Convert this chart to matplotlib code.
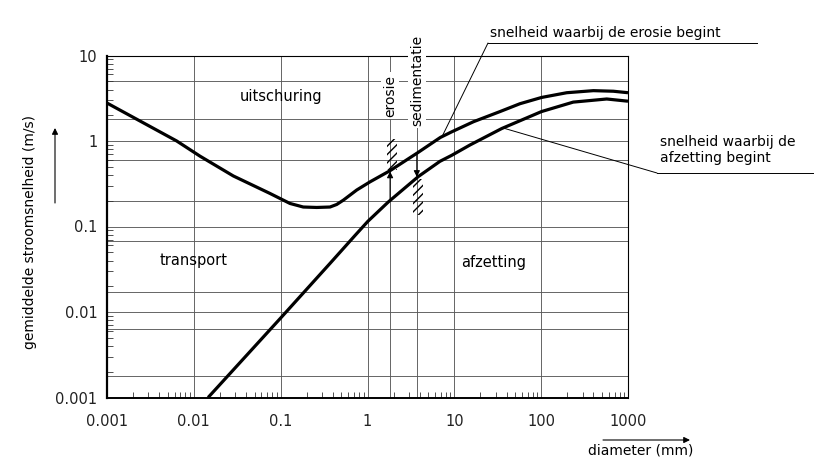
import numpy as np
import matplotlib
matplotlib.use("Agg")
import matplotlib.pyplot as plt
from matplotlib.patches import Rectangle
from matplotlib.ticker import LogLocator, NullFormatter

# --- data ---
# erosion curve (snelheid waarbij de erosie begint)
d_erosie = [0.001, 0.00635, 0.0118, 0.0285, 0.075, 0.098, 0.128, 0.182, 0.26, 0.37,
            0.442, 0.526, 0.751, 1.07, 1.82, 3.82, 6.9, 9.33, 16.6, 33.6, 57, 101,
            197, 399, 678, 1000]
v_erosie = [2.78, 1.0, 0.664, 0.39, 0.244, 0.213, 0.186, 0.169, 0.167, 0.169,
            0.181, 0.203, 0.267, 0.333, 0.45, 0.734, 1.1, 1.28, 1.68, 2.21, 2.73, 3.23,
            3.67, 3.88, 3.82, 3.67]

# deposition curve (snelheid waarbij de afzetting begint)
d_afzetting = [0.0146, 0.0239, 0.101, 0.37, 0.718, 1.01, 1.74, 3.85, 6.84, 9.33,
               15.2, 35.2, 101, 234, 569, 1000]
v_afzetting = [0.001, 0.00173, 0.0086, 0.037, 0.0785, 0.115, 0.194, 0.384, 0.579, 0.68,
               0.9, 1.4, 2.21, 2.85, 3.1, 2.92]

# tick labels
x_ticks = [0.001, 0.01, 0.1, 1, 10, 100, 1000]
x_labels = ["0.001", "0.01", "0.1", "1", "10", "100", "1000"]
y_ticks = [0.001, 0.01, 0.1, 1, 10]
y_labels = ["0.001", "0.01", "0.1", "1", "10"]

# extra grid lines of the drawing
grid_x = [1.82, 3.7]
grid_y = [5, 1.8, 0.6, 0.2, 0.067, 0.017, 0.0064, 0.0018]

W, H = 821, 459
plt.rcParams["hatch.linewidth"] = 1.0
fig = plt.figure(figsize=(W / 100, H / 100), dpi=100)
ax = fig.add_axes([107 / W, 1 - 397.5 / H, (628 - 107) / W, (397.5 - 55.5) / H])
ax.set_xscale("log")
ax.set_yscale("log")
ax.set_xlim(0.001, 1000)
ax.set_ylim(0.001, 10)

# grid
gcol = "#5a5a5a"
for yv in y_ticks + grid_y:
    ax.axhline(yv, color=gcol, lw=0.65, zorder=1)
for xv in x_ticks + grid_x:
    ax.axvline(xv, color=gcol, lw=0.65, zorder=1)

# curves
ax.plot(d_erosie, v_erosie, color="black", lw=2.3, solid_capstyle="butt", zorder=3)
ax.plot(d_afzetting, v_afzetting, color="black", lw=2.3, solid_capstyle="butt", zorder=3)

# ticks
ax.set_xticks(x_ticks, x_labels)
ax.set_yticks(y_ticks, y_labels)
ax.xaxis.set_minor_locator(LogLocator(base=10, subs=np.arange(2, 10)))
ax.yaxis.set_minor_locator(LogLocator(base=10, subs=np.arange(2, 10)))
ax.xaxis.set_minor_formatter(NullFormatter())
ax.yaxis.set_minor_formatter(NullFormatter())
ax.tick_params(which="major", length=0, labelsize=10.5, colors="#222222")
ax.tick_params(axis="x", which="major", pad=12)
ax.tick_params(axis="y", which="major", pad=7)
ax.tick_params(which="minor", direction="in", length=4, width=0.6, color="#333333")

for side in ["top", "right"]:
    ax.spines[side].set_linewidth(0.8)
ax.spines["left"].set_linewidth(1.6)
ax.spines["bottom"].set_linewidth(1.4)

# region names
ax.text(0.1, 3.31, "uitschuring", ha="center", va="center", fontsize=10.5)
ax.text(0.01, 0.04, "transport", ha="center", va="center", fontsize=10.5)
ax.text(28.6, 0.038, "afzetting", ha="center", va="center", fontsize=10.5)

box = dict(facecolor="white", edgecolor="none", pad=1.5)
ax.text(1.82, 3.4, "erosie", rotation=90, ha="center", va="center", fontsize=10,
        bbox=box, zorder=4)
ax.text(3.7, 5.15, "sedimentatie", rotation=90, ha="center", va="center", fontsize=10,
        bbox=box, zorder=4, clip_on=False)

# hatching and arrows at the erosie / sedimentatie lines
ax.add_patch(Rectangle((1.68, 0.46), 2.19 - 1.68, 1.05 - 0.46, fill=False, lw=0,
                       edgecolor="black", hatch="////", zorder=2))
ax.add_patch(Rectangle((3.34, 0.135), 4.36 - 3.34, 0.36 - 0.135, fill=False, lw=0,
                       edgecolor="black", hatch="////", zorder=2))
arr = dict(arrowstyle="-|>", color="black", lw=0.8, mutation_scale=9, shrinkA=0, shrinkB=0)
ax.annotate("", xy=(1.82, 0.44), xytext=(1.82, 0.2), arrowprops=arr, zorder=4)
ax.annotate("", xy=(3.7, 0.38), xytext=(3.7, 0.72), arrowprops=arr, zorder=4)

# callouts
lead = dict(arrowstyle="-", color="black", lw=0.7, shrinkA=0, shrinkB=0)
fig.text(490 / W, 1 - 33 / H, "snelheid waarbij de erosie begint", ha="left", va="center",
         fontsize=10)
fig.add_artist(plt.Line2D([488 / W, 757 / W], [1 - 43 / H] * 2, transform=fig.transFigure,
                          color="black", lw=0.7))
ax.annotate("", xy=(7.2, 1.12), xytext=(488, H - 43), textcoords="figure pixels",
            arrowprops=lead)

fig.text(660 / W, 1 - 150 / H, "snelheid waarbij de\nafzetting begint", ha="left",
         va="center", fontsize=10, linespacing=1.25)
fig.add_artist(plt.Line2D([657 / W, 813 / W], [1 - 173 / H] * 2, transform=fig.transFigure,
                          color="black", lw=0.7))
ax.annotate("", xy=(36.4, 1.42), xytext=(657, H - 173), textcoords="figure pixels",
            arrowprops=lead)

# axis titles with their arrows
fig.text(30 / W, 1 - 232 / H, "gemiddelde stroomsnelheid (m/s)", rotation=90,
         ha="center", va="center", fontsize=10)
ax.annotate("", xy=(55, H - 128), xycoords="figure pixels", xytext=(55, H - 203),
            textcoords="figure pixels", arrowprops=arr)
fig.text(641 / W, 8 / H, "diameter (mm)", ha="center", va="center", fontsize=10)
ax.annotate("", xy=(690, H - 440), xycoords="figure pixels", xytext=(603, H - 440),
            textcoords="figure pixels", arrowprops=arr)

fig.savefig("out.png", dpi=100)
